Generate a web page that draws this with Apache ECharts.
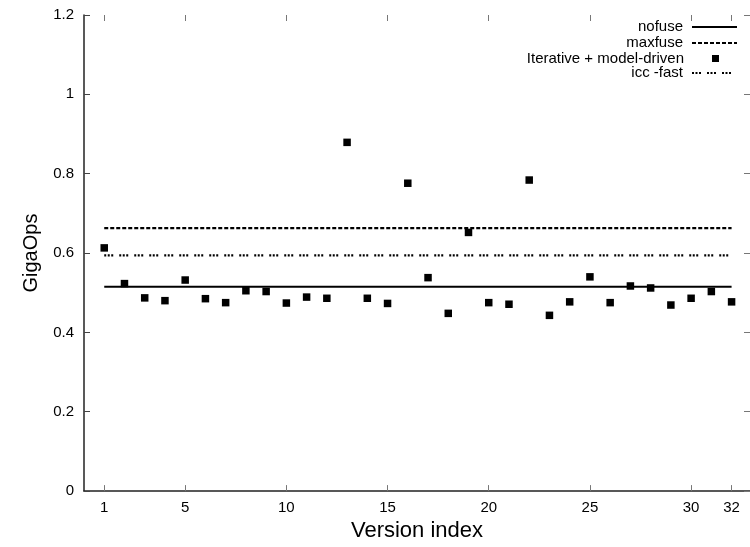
<!DOCTYPE html>
<html>
<head>
<meta charset="utf-8">
<script src="https://cdn.jsdelivr.net/npm/echarts@6/dist/echarts.min.js"></script>
<style>html,body{margin:0;padding:0;background:#fff;}#c{width:750px;height:547px;}</style>
</head>
<body>
<div id="c"></div>
<script>
var versionIndex = [1,2,3,4,5,6,7,8,9,10,11,12,13,14,15,16,17,18,19,20,21,22,23,24,25,26,27,28,29,30,31,32];
var iterativeGigaOps = [0.613,0.523,0.487,0.480,0.532,0.485,0.475,0.505,0.503,0.474,0.489,0.486,0.879,0.486,0.473,0.776,0.538,0.448,0.652,0.475,0.471,0.784,0.443,0.477,0.540,0.475,0.517,0.512,0.469,0.486,0.503,0.477];
var nofuseLevel = 0.515;
var maxfuseLevel = 0.663;
var iccFastLevel = 0.594;
var xTickValues = [1,5,10,15,20,25,30,32];
var seriesNames = ['nofuse','maxfuse','Iterative + model-driven','icc -fast'];

var firstV = versionIndex[0], lastV = versionIndex[versionIndex.length-1];
var font = 'Liberation Sans, Arial, sans-serif';

function legendFor(name, centerY, w, h, right, padRight, hideSymbol) {
  var lg = {
    data: [name], right: right, top: centerY - 8, padding: 0, align: 'right',
    orient: 'vertical', itemWidth: w, itemHeight: h, selectedMode: false,
    textStyle: {fontFamily: font, fontSize: 15, color: '#000', lineHeight: 16, padding: [0, padRight, 0, 0]}
  };
  if (hideSymbol) { lg.itemStyle = {opacity: 0}; }
  return lg;
}

var chart = echarts.init(document.getElementById('c'));
chart.setOption({
  animation: false,
  backgroundColor: '#fff',
  grid: {left: 84, right: -5, top: 15, bottom: 55, containLabel: false},
  legend: [
    legendFor(seriesNames[0], 27, 45, 10, 12, 4, true),
    legendFor(seriesNames[1], 43, 45, 10, 12, 4, true),
    legendFor(seriesNames[2], 58.5, 7, 7, 31, 23, false),
    legendFor(seriesNames[3], 73, 45, 10, 12, 4, true)
  ],
  xAxis: [{
    type: 'value', min: 0, max: 32.91, position: 'bottom',
    name: 'Version index', nameLocation: 'middle', nameGap: 27,
    nameTextStyle: {fontFamily: font, fontSize: 22, color: '#000'},
    axisLine: {show: true, onZero: false, lineStyle: {color: '#222', width: 1.5}},
    axisTick: {show: true, inside: true, length: 6, customValues: xTickValues, lineStyle: {color: '#777', width: 1}},
    axisLabel: {show: true, customValues: xTickValues, margin: 9, fontFamily: font, fontSize: 15, color: '#000'},
    splitLine: {show: false}
  }, {
    type: 'value', min: 0, max: 32.91, position: 'top',
    axisLine: {show: false, onZero: false},
    axisTick: {show: true, inside: true, length: 6, customValues: xTickValues, lineStyle: {color: '#777', width: 1}},
    axisLabel: {show: false},
    splitLine: {show: false}
  }],
  yAxis: [{
    type: 'value', min: 0, max: 1.2, interval: 0.2, position: 'left',
    name: 'GigaOps', nameLocation: 'middle', nameGap: 43,
    nameTextStyle: {fontFamily: font, fontSize: 20, color: '#000'},
    axisLine: {show: true, onZero: false, lineStyle: {color: '#222', width: 1.5}},
    axisTick: {show: true, inside: true, length: 6, lineStyle: {color: '#444', width: 1}},
    axisLabel: {margin: 10, fontFamily: font, fontSize: 15, color: '#000'},
    splitLine: {show: false}
  }, {
    type: 'value', min: 0, max: 1.2, interval: 0.2, position: 'right',
    axisLine: {show: false, onZero: false},
    axisTick: {show: true, inside: true, length: 6, lineStyle: {color: '#777', width: 1}},
    axisLabel: {show: false},
    splitLine: {show: false}
  }],
  series: [{
    name: seriesNames[0], type: 'line', symbol: 'none', silent: true,
    data: [[firstV, nofuseLevel], [lastV, nofuseLevel]],
    lineStyle: {color: '#000', width: 2.2, type: 'solid'}, itemStyle: {color: '#000'}
  }, {
    name: seriesNames[1], type: 'line', symbol: 'none', silent: true,
    data: [[firstV, maxfuseLevel], [lastV, maxfuseLevel]],
    lineStyle: {color: '#000', width: 2.2, type: [4, 2]}, itemStyle: {color: '#000'}
  }, {
    name: seriesNames[2], type: 'scatter', symbol: 'rect', symbolSize: 7.5,
    data: versionIndex.map(function (v, i) { return [v, iterativeGigaOps[i]]; }),
    itemStyle: {color: '#000', opacity: 1}
  }, {
    name: seriesNames[3], type: 'line', symbol: 'none', silent: true,
    data: [[firstV, iccFastLevel], [lastV, iccFastLevel]],
    lineStyle: {color: '#000', width: 2.2, type: [2, 1.5, 2, 1.5, 2, 6]}, itemStyle: {color: '#000'}
  }]
});
</script>
</body>
</html>
